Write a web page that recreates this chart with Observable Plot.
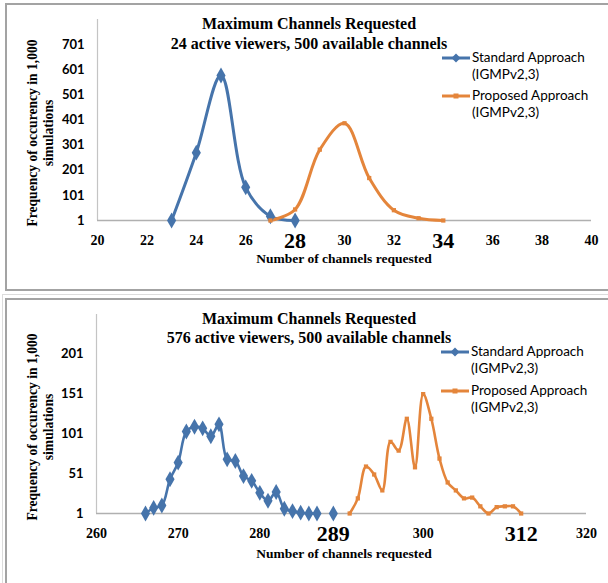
<!DOCTYPE html>
<html><head><meta charset="utf-8">
<script src="https://cdn.jsdelivr.net/npm/d3@7"></script>
<script src="https://cdn.jsdelivr.net/npm/@observablehq/plot@0.6"></script>
<style>
body{margin:0;background:#fff;}
#root{position:relative;width:608px;height:583px;overflow:hidden;background:#fff;}
.abs{position:absolute;white-space:nowrap;line-height:1;color:#000;}
.serifb{font-family:"Liberation Serif","Times New Roman",serif;font-weight:bold;}
.ctr{transform:translate(-50%,-50%);}
.leg{font-family:Lato,"Open Sans",sans-serif;font-size:13.5px;transform:translate(0,-50%);}
.ylab{font-size:13.6px;transform:translate(-50%,-50%) rotate(-90deg);}
svg.panel{position:absolute;left:0;}
</style></head><body><div id="root"></div>
<script>
// ---- Data: top chart (24 active viewers) ----
const topStdX = [23, 24, 25, 26, 27, 28];
const topStdY = [1, 271, 578, 133, 18, 1];
const topPropX = [27, 28, 29, 30, 31, 32, 33, 34];
const topPropY = [1, 45, 283, 388, 170, 42, 10, 1];
const topYTicks = [1, 101, 201, 301, 401, 501, 601, 701];
const topXTicks = [20, 22, 24, 26, 28, 30, 32, 34, 36, 38, 40];
const topXBig = [28, 34];

// ---- Data: bottom chart (576 active viewers) ----
const botStdX = [266, 267, 268, 269, 270, 271, 272, 273, 274, 275, 276, 277, 278, 279, 280, 281, 282, 283, 284, 285, 286, 287, 288, 289];
const botStdY = [1, 8, 11, 44, 65, 104, 110, 108, 98, 113, 69, 67, 48, 42, 27, 17, 28, 7, 4, 2, 1, 1, null, 1];
const botPropX = [291, 292, 293, 294, 295, 296, 297, 298, 299, 300, 301, 302, 303, 304, 305, 306, 307, 308, 309, 310, 311, 312];
const botPropY = [1, 20, 60, 50, 30, 91, 80, 120, 59, 151, 120, 70, 40, 30, 20, 21, 10, 1, 9, 10, 10, 1];
const botYTicks = [1, 51, 101, 151, 201];
const botXTicks = [260, 270, 280, 289, 300, 312, 320];
const botXBig = [289, 312];

const seriesNames = ["Standard Approach", "Proposed Approach"];
const seriesSub = "(IGMPv2,3)";
const titles = ["Maximum Channels Requested", "24 active viewers, 500 available channels", "576 active viewers, 500 available channels"];
const xTitle = "Number of channels requested";
const yTitle = ["Frequency of occurency in 1,000", "simulations"];

const BLUE = "#4674ab", ORANGE = "#e4853b";
const root = document.getElementById("root");

function div(cls, html, x, y, style = "") {
  const d = document.createElement("div");
  d.className = "abs " + cls;
  d.style.cssText = `left:${x}px;top:${y}px;${style}`;
  d.textContent = html;
  root.appendChild(d);
  return d;
}
function box(l, t, w, h, css) {
  const d = document.createElement("div");
  d.style.cssText = `position:absolute;box-sizing:border-box;left:${l}px;top:${t}px;width:${w}px;height:${h}px;${css}`;
  root.appendChild(d);
}
// frames
box(5, 3, 640, 288, "border:2px solid #a3a3a3;");
box(2, 294, 640, 400, "border:1px solid #dcdcdc;");
box(5, 298, 640, 400, "border:2px solid #a3a3a3;");

function panel(o) {
  const std = o.sx.map((x, i) => ({x, y: o.sy[i]}));
  const prop = o.px.map((x, i) => ({x, y: o.py[i]}));
  const small = o.xTicks.filter(t => !o.xBig.includes(t));
  const svg = Plot.plot({
    width: 608, height: o.h,
    marginLeft: o.ml, marginRight: 608 - o.xr, marginTop: o.mt, marginBottom: o.h - o.base,
    x: {domain: o.xd, axis: null},
    y: {domain: o.yd, axis: null},
    style: {background: "transparent", color: "#000", overflow: "visible"},
    marks: [
      Plot.ruleX([o.xd[0]], {stroke: "#c4c4c4", strokeWidth: 1.2}),
      Plot.ruleY([o.yd[0]], {stroke: "#b0b0b0", strokeWidth: 1.6}),
      Plot.axisY(o.yTicks, {tickSize: 0, tickPadding: 13, fontSize: 13, fontWeight: "bold", fontFamily: "Lato, sans-serif", label: null}),
      Plot.text(small, {x: d => d, text: d => String(d), frameAnchor: "bottom", dy: 20, lineAnchor: "middle", fontSize: 14, fontWeight: "bold", fontFamily: "Liberation Serif, serif", fill: "#000"}),
      Plot.text(o.xBig, {x: d => d, text: d => String(d), frameAnchor: "bottom", dy: 20, lineAnchor: "middle", fontSize: 22, fontWeight: "bold", fontFamily: "Liberation Serif, serif", fill: "#000"}),
      Plot.line(std, {x: "x", y: "y", stroke: BLUE, strokeWidth: o.sw, curve: o.curve}),
      Plot.line(prop, {x: "x", y: "y", stroke: ORANGE, strokeWidth: o.sw, curve: o.curve}),
      Plot.dot(std, {x: "x", y: "y", symbol: "diamond", r: 4.8, fill: BLUE, stroke: "none"}),
      Plot.dot(prop, {x: "x", y: "y", symbol: "square", r: 2.4, fill: ORANGE, stroke: "none"})
    ]
  });
  svg.classList.add("panel");
  svg.style.top = o.top + "px";
  root.appendChild(svg);

  const T = o.top;
  div("serifb ctr", titles[0], 309, T + o.t1, "font-size:16px;");
  div("serifb ctr", o.sub, 309, T + o.t2, "font-size:16px;");
  div("serifb ctr", xTitle, 344, T + o.xt, "font-size:13.5px;");
  div("serifb ylab", yTitle[0], 33, T + o.yc);
  div("serifb ylab", yTitle[1], 49, T + o.yc);
  // legend
  const items = [[seriesNames[0], BLUE, "diamond"], [seriesNames[1], ORANGE, "square"]];
  items.forEach(([name, col, sym], i) => {
    const y = T + o.ly[i];
    const s = document.createElementNS("http://www.w3.org/2000/svg", "svg");
    s.setAttribute("width", 30); s.setAttribute("height", 12);
    s.style.cssText = `position:absolute;left:${o.lx}px;top:${y - 6}px;`;
    const mk = sym === "diamond"
      ? `<path d="M14,1.5L18.5,6L14,10.5L9.5,6Z" fill="${col}"/>`
      : `<rect x="11.5" y="3.5" width="5" height="5" fill="${col}"/>`;
    s.innerHTML = `<line x1="0" x2="28" y1="6" y2="6" stroke="${col}" stroke-width="3"/>` + mk;
    root.appendChild(s);
    div("leg", name, o.lx + 30, y);
    div("leg", seriesSub, o.lx + 30, y + 17);
  });
}

panel({top: 0, h: 290, ml: 97, xr: 591, mt: 19, base: 220, xd: [20, 40], yd: [1, 801],
  sx: topStdX, sy: topStdY, px: topPropX, py: topPropY, yTicks: topYTicks, xTicks: topXTicks, xBig: topXBig,
  sw: 3, curve: "catmull-rom", sub: titles[1], t1: 24, t2: 44, xt: 259, yc: 133, lx: 442, ly: [58, 96]});
panel({top: 290, h: 293, ml: 96, xr: 586, mt: 24, base: 223, xd: [260, 320], yd: [1, 251],
  sx: botStdX, sy: botStdY, px: botPropX, py: botPropY, yTicks: botYTicks, xTicks: botXTicks, xBig: botXBig,
  sw: 2.6, curve: "catmull-rom", sub: titles[2], t1: 29, t2: 48, xt: 264, yc: 137, lx: 441, ly: [62, 101]});
</script></body></html>
